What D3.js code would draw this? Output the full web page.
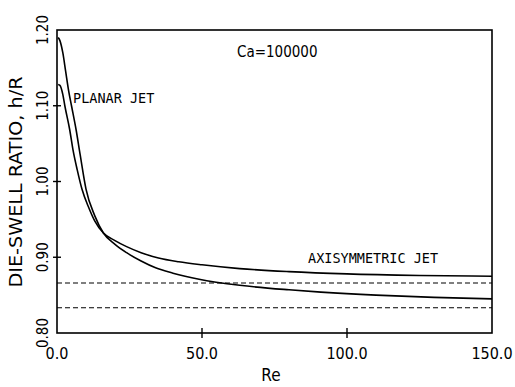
<!DOCTYPE html>
<html>
<head>
<meta charset="utf-8">
<script src="https://cdn.jsdelivr.net/npm/d3@7"></script>
<style>
  body { margin: 0; background: #fff; }
  text { fill: #000; }
</style>
</head>
<body>
<div id="chart"></div>
<script>
// planar jet (starts high, ends low)
const planarRe = [0.4, 1, 2, 3, 4, 5, 6.6, 8, 10, 13, 16, 20, 24, 29, 34, 40, 49, 63, 80, 91, 110, 130, 150]
const planarH = [1.19, 1.186, 1.17, 1.145, 1.12, 1.10, 1.068, 1.035, 0.99, 0.955, 0.932, 0.917, 0.906, 0.895, 0.886, 0.879, 0.871, 0.863, 0.857, 0.854, 0.850, 0.847, 0.845]
// axisymmetric jet
const axiRe = [0.4, 1, 2, 2.7, 4.4, 5.5, 7, 8.6, 11, 13, 16, 20, 24, 29, 35, 42, 50, 63, 80, 100, 125, 150]
const axiH = [1.128, 1.127, 1.115, 1.10, 1.068, 1.042, 1.015, 0.99, 0.965, 0.948, 0.932, 0.922, 0.914, 0.906, 0.899, 0.894, 0.890, 0.885, 0.881, 0.878, 0.876, 0.875]
// inviscid limits
const limits = [Math.sqrt(3) / 2, 5 / 6]

const xTicks = [0, 50, 100, 150]
const yTicks = [0.8, 0.9, 1.0, 1.1, 1.2]

const w = 515, h = 387
const m = { left: 57, right: 23, top: 30, bottom: 54 }

const svg = d3.select('#chart').append('svg').attr('width', w).attr('height', h)

const x = d3.scaleLinear().domain([0, 150]).range([m.left, w - m.right])
const y = d3.scaleLinear().domain([0.8, 1.2]).range([h - m.bottom, m.top])

const sans = '"DejaVu Sans Condensed", "DejaVu Sans", sans-serif'
const mono = '"DejaVu Sans Mono", monospace'

// frame
svg.append('rect')
    .attr('x', x(0)).attr('y', y(1.2))
    .attr('width', x(150) - x(0)).attr('height', y(0.8) - y(1.2))
    .attr('fill', 'none').attr('stroke', '#000').attr('stroke-width', 1.6)

// ticks
svg.selectAll('.xt').data(xTicks.slice(1, 3)).enter().append('line')
    .attr('x1', d => x(d)).attr('x2', d => x(d))
    .attr('y1', y(0.8) - 5).attr('y2', y(0.8) + 5)
    .attr('stroke', '#000').attr('stroke-width', 1.4)
svg.selectAll('.yt').data(yTicks.slice(1, 4)).enter().append('line')
    .attr('x1', x(0) - 4).attr('x2', x(0) + 4)
    .attr('y1', d => y(d)).attr('y2', d => y(d))
    .attr('stroke', '#000').attr('stroke-width', 1.4)

// tick labels
svg.selectAll('.xl').data(xTicks).enter().append('text')
    .attr('x', d => x(d)).attr('y', 359)
    .attr('text-anchor', 'middle')
    .style('font-family', sans).style('font-size', '16px')
    .text(d => d.toFixed(1))
svg.selectAll('.yl').data(yTicks).enter().append('text')
    .attr('transform', d => `translate(48,${y(d)}) rotate(-90)`)
    .attr('text-anchor', 'middle')
    .style('font-family', sans).style('font-size', '15px')
    .text(d => d.toFixed(2))

// axis titles
svg.append('text')
    .attr('x', 271).attr('y', 381).attr('text-anchor', 'middle')
    .style('font-family', sans).style('font-size', '17px')
    .text('Re')
svg.append('text')
    .attr('transform', 'translate(22,182) rotate(-90)')
    .attr('text-anchor', 'middle')
    .attr('textLength', 211).attr('lengthAdjust', 'spacingAndGlyphs')
    .style('font-family', sans).style('font-size', '18px')
    .text('DIE-SWELL RATIO, h/R')

// dashed asymptotes
svg.selectAll('.lim').data(limits).enter().append('line')
    .attr('x1', x(0)).attr('x2', x(150))
    .attr('y1', d => y(d)).attr('y2', d => y(d))
    .attr('stroke', '#000').attr('stroke-width', 1.1)
    .attr('stroke-dasharray', '5,3')

// curves
const line = d3.line().x(d => x(d[0])).y(d => y(d[1])).curve(d3.curveMonotoneX)
const series = [d3.zip(planarRe, planarH), d3.zip(axiRe, axiH)]
svg.selectAll('.curve').data(series).enter().append('path')
    .attr('d', line)
    .attr('fill', 'none').attr('stroke', '#000').attr('stroke-width', 1.6)

// annotations
svg.append('text').attr('x', 237).attr('y', 57)
    .style('font-family', sans).style('font-size', '15px')
    .text('Ca=100000')
svg.append('text').attr('x', 73).attr('y', 103)
    .style('font-family', mono).style('font-size', '13.5px')
    .text('PLANAR JET')
svg.append('text').attr('x', 308).attr('y', 263)
    .style('font-family', mono).style('font-size', '13.5px')
    .text('AXISYMMETRIC JET')
</script>
</body>
</html>
